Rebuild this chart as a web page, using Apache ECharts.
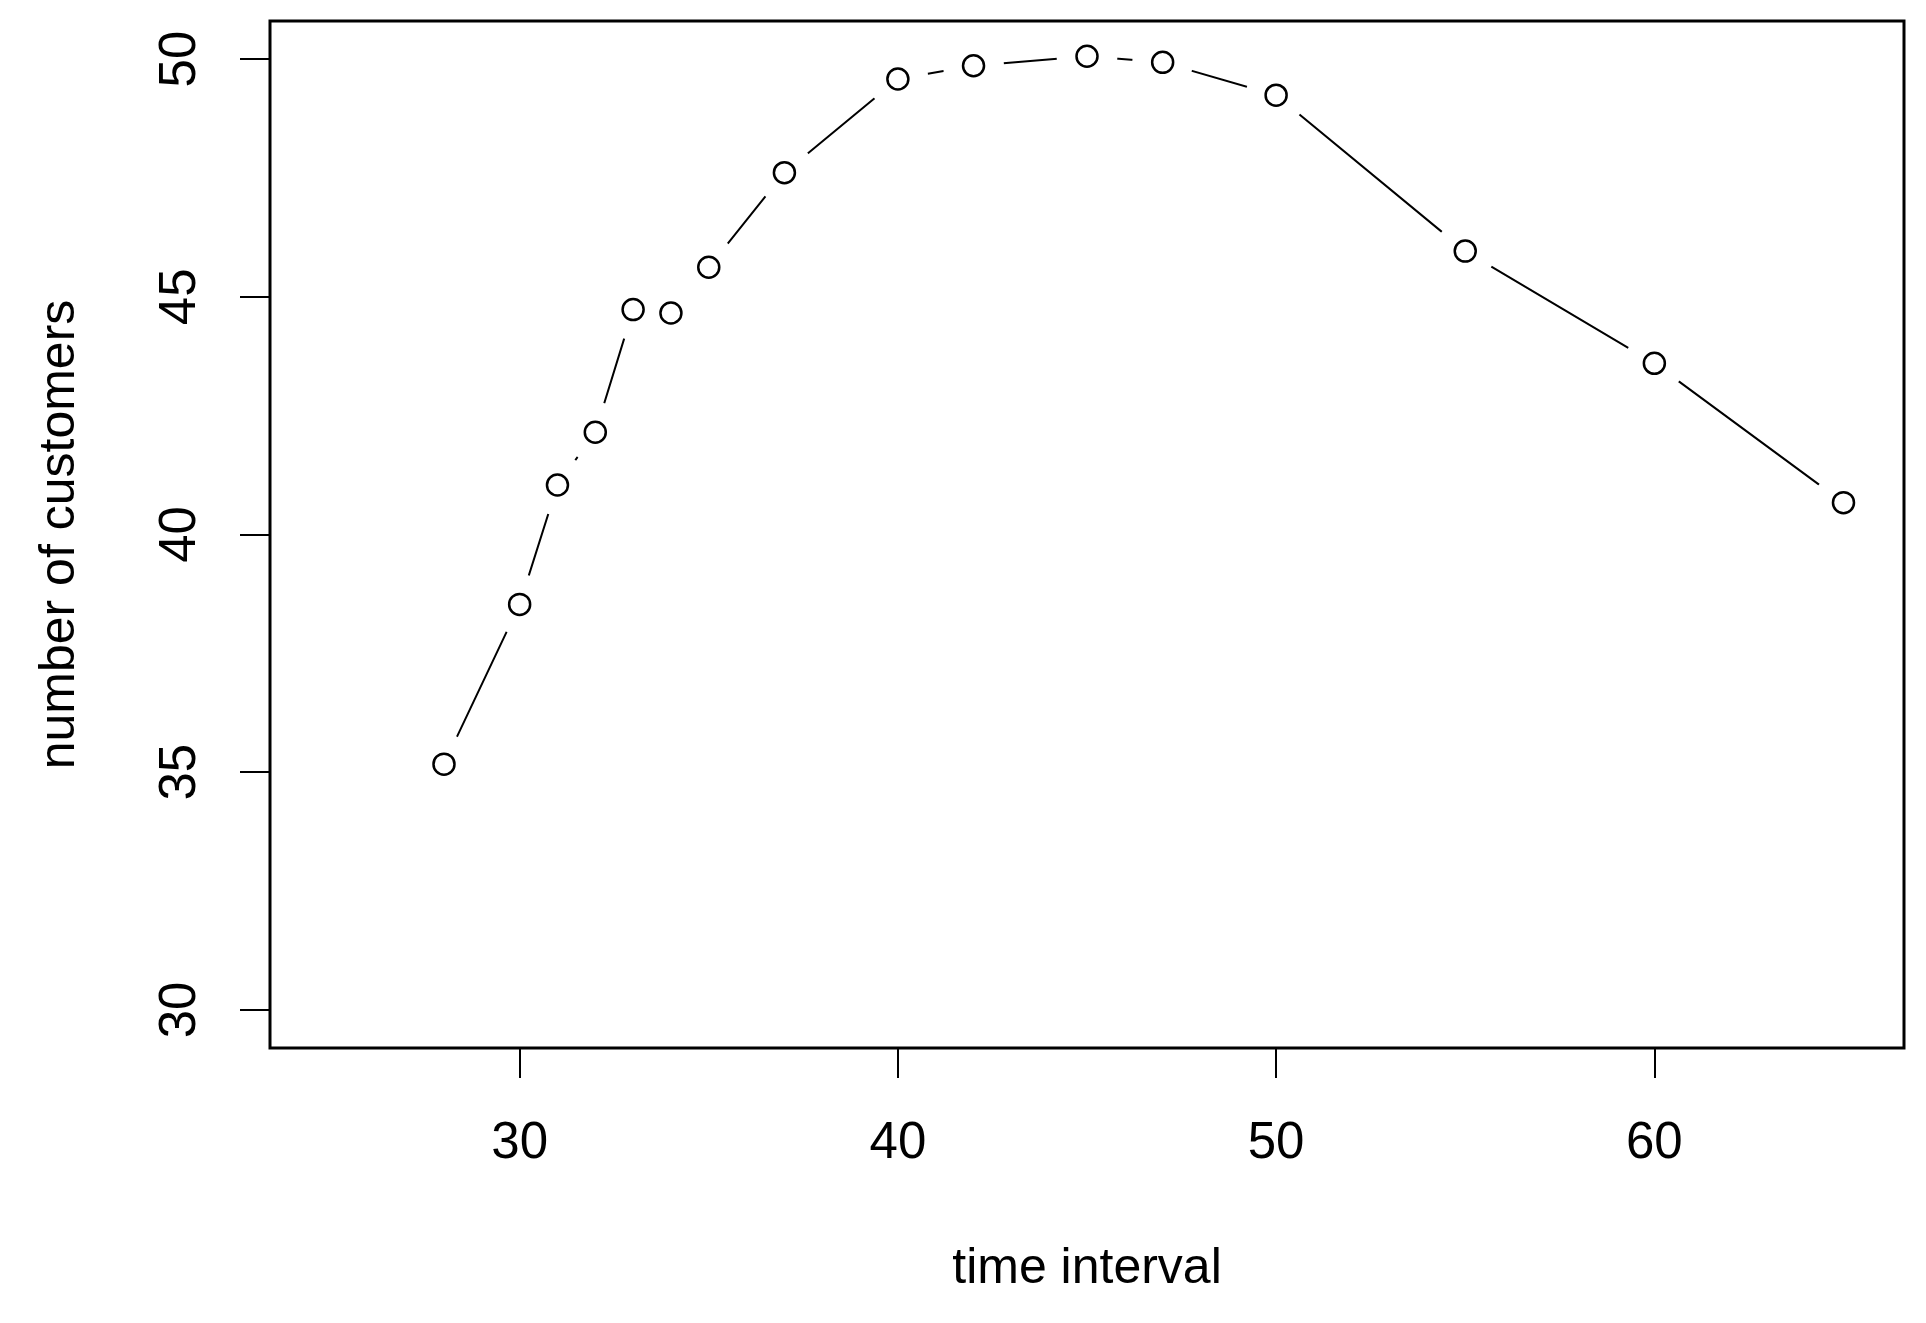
<!DOCTYPE html>
<html lang="en">
<head>
    <meta charset="UTF-8">
    <title>customers</title>
    <script type="text/javascript" src="https://cdn.jsdelivr.net/npm/echarts@6/dist/echarts.min.js"></script>
    <style>
        body{margin:0;background:#fff;}
    </style>
</head>
<body>
<div id="chartmain" style="width:1926px;height:1323px"></div>
<script>
    // values
    var timeInterval = [28, 30, 31, 32, 33, 34, 35, 37, 40, 42, 45, 47, 50, 55, 60, 65];
    var customers = [35.17, 38.53, 41.04, 42.15, 44.73, 44.66, 45.62, 47.61, 49.58, 49.86, 50.06, 49.93, 49.24, 45.96, 43.60, 40.67];
    var xTicks = [30, 40, 50, 60];
    var yTicks = [30, 35, 40, 45, 50];

    var pts = [];
    for (var i = 0; i < timeInterval.length; i++) {
        pts.push([timeInterval[i], customers[i]]);
    }

    var font = 'Liberation Sans';
    var option = {
        animation: false,
        backgroundColor: '#fff',
        grid: {
            left: 270, right: 22, top: 21, bottom: 275,
            show: true,
            borderColor: '#000',
            borderWidth: 3,
            backgroundColor: 'transparent'
        },
        xAxis: {
            type: 'value',
            min: 23.4,
            max: 66.6,
            name: 'time interval',
            nameLocation: 'middle',
            nameGap: 196,
            nameTextStyle: {color: '#000', fontFamily: font, fontSize: 50},
            axisLine: {show: false},
            splitLine: {show: false},
            axisTick: {show: true, inside: false, length: 30, customValues: xTicks,
                lineStyle: {color: '#000', width: 2}},
            axisLabel: {customValues: xTicks, margin: 70, color: '#000',
                fontFamily: font, fontSize: 51}
        },
        yAxis: {
            type: 'value',
            min: 29.2,
            max: 50.8,
            name: 'number of customers',
            nameLocation: 'middle',
            nameGap: 185,
            nameTextStyle: {color: '#000', fontFamily: font, fontSize: 50},
            axisLine: {show: false},
            splitLine: {show: false},
            axisTick: {show: true, inside: false, length: 30, customValues: yTicks,
                lineStyle: {color: '#000', width: 2}},
            axisLabel: {customValues: yTicks, rotate: 90, margin: 64, color: '#000',
                fontFamily: font, fontSize: 51}
        },
        series: [
            {
                type: 'line',
                data: pts,
                showSymbol: false,
                lineStyle: {color: '#000', width: 2},
                z: 1,
                silent: true
            },
            {
                // white discs leave the gap round each point, like type="b"
                type: 'scatter',
                data: pts,
                symbol: 'circle',
                symbolSize: 61,
                itemStyle: {color: '#fff', opacity: 1},
                z: 2,
                silent: true
            },
            {
                type: 'scatter',
                data: pts,
                symbol: 'circle',
                symbolSize: 21,
                itemStyle: {color: '#fff', borderColor: '#000', borderWidth: 2.5, opacity: 1},
                z: 3
            }
        ]
    };

    var myChart = echarts.init(document.getElementById('chartmain'));
    myChart.setOption(option);
</script>
</body>
</html>
